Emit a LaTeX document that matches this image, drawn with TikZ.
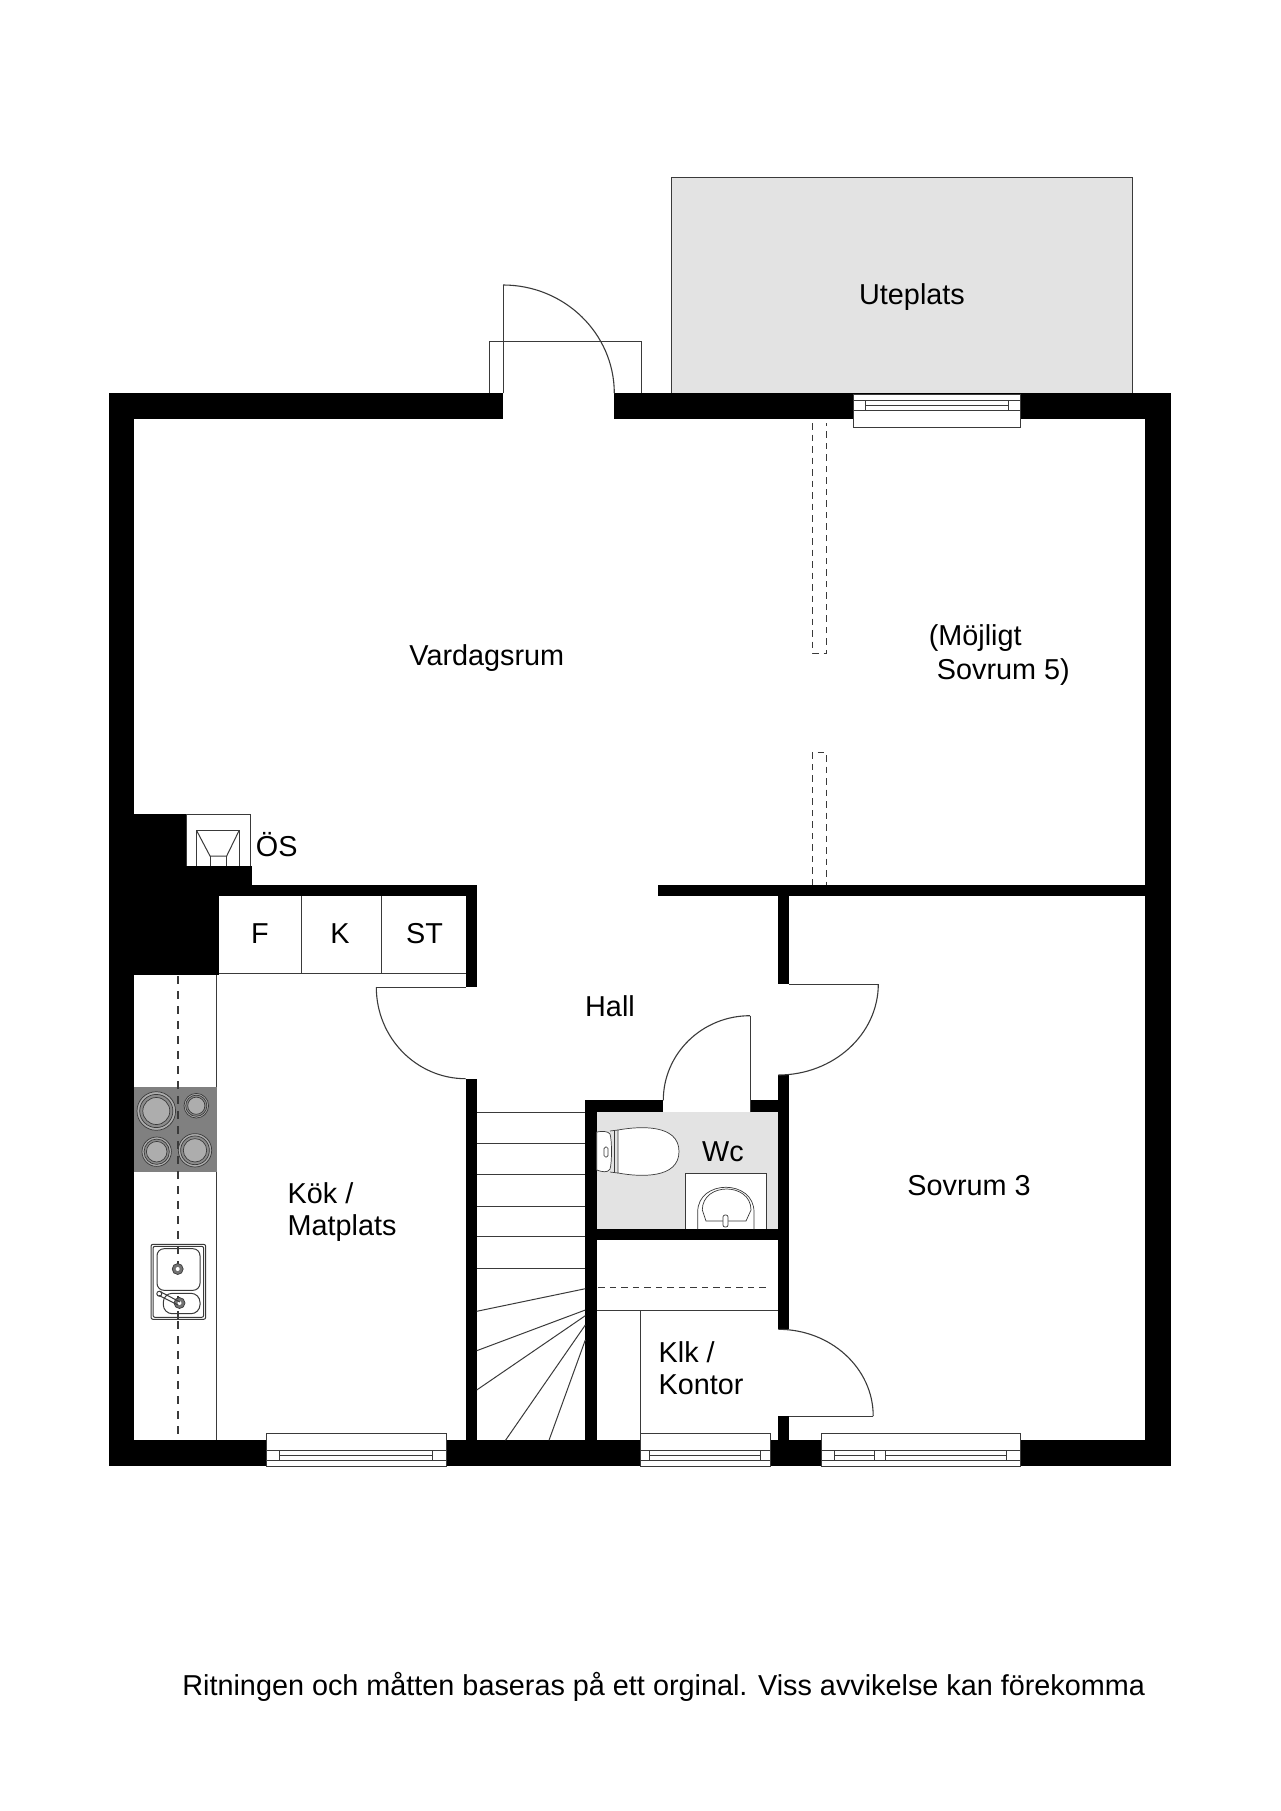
\documentclass[tikz,border=0pt]{standalone}
\usepackage{fontspec}
\setmainfont{Liberation Sans}
\definecolor{linea}{HTML}{3A3A3A}
\definecolor{grigio}{HTML}{E3E3E3}
\tikzset{
    muro/.style = {fill=black},
    sottile/.style = {draw=linea, line width=1pt},
    tratteggio/.style = {draw=linea, line width=1.3pt, dash pattern=on 8pt off 7pt},
    tratteggino/.style = {draw=linea, line width=1pt, dash pattern=on 6.5pt off 5pt},
    etichetta/.style = {font=\fontsize{28.8pt}{30pt}\selectfont, inner sep=0pt},
    piastra/.style = {draw=linea, line width=0.7pt, fill=#1}
}
\newcommand{\porta}[4]{
\draw[sottile, line width=1.1pt] (#3,#2) .. controls (#3,{#2+0.5523*(#4-#2)}) and ({#1+0.5523*(#3-#1)},#4) .. (#1,#4);
}
\newcommand{\finestra}[4]{
\fill[white] (#1,1433.3) rectangle (#2,1466);
\draw[sottile] (#1,1433.3) rectangle (#2,1466);
\draw[sottile] (#1,1450.3) -- (#2,1450.3);
\draw[sottile] (#3,1455.3) -- (#4,1455.3);
\draw[sottile] (#1,1460) -- (#2,1460);
\draw[sottile] (#3,1450.3) -- (#3,1460);
\draw[sottile] (#4,1450.3) -- (#4,1460);
}
\newcommand{\fornello}[3]{
\draw[piastra={black!32}] (#1,#2) circle (#3);
\draw[piastra={black!45}] (#1,#2) circle (#3*0.86);
\draw[piastra={black!32}] (#1,#2) circle (#3*0.70);
}
\begin{document}
\begin{tikzpicture}[x=1pt, y=-1pt]
    \useasboundingbox (0,0) rectangle (1280,1811);
    % Uteplats
    \draw[sottile, fill=grigio] (671.9,178) rectangle (1132.5,393.3);
    % Wc
    \fill[grigio] (596.7,1112.3) rectangle (778.3,1229.3);
    % Muri esterni
    \fill[muro] (108.7,393.3) rectangle (134.3,1466.3);
    \fill[muro] (108.7,393.3) rectangle (503,419.3);
    \fill[muro] (614.3,393.3) rectangle (1171.2,419.3);
    \fill[muro] (1145.2,393.3) rectangle (1171.2,1466.3);
    \fill[muro] (108.7,1440.3) rectangle (1171.2,1466.3);
    % Camino
    \fill[muro] (134.3,813.7) rectangle (186,885);
    \fill[muro] (134.3,865.7) rectangle (251.7,885);
    \fill[muro] (134.3,885) rectangle (218.7,974.7);
    % Muri interni
    \fill[muro] (218,885) rectangle (476.7,896.3);
    \fill[muro] (465.7,885) rectangle (476.7,987);
    \fill[muro] (465.7,1078.7) rectangle (476.7,1440.3);
    \fill[muro] (658.3,885) rectangle (1145.2,896);
    \fill[muro] (778.3,885) rectangle (789.3,984);
    \fill[muro] (778.3,1075) rectangle (789.3,1329.3);
    \fill[muro] (778.3,1416) rectangle (789.3,1440.3);
    \fill[muro] (585.3,1100.3) rectangle (596.7,1440.3);
    \fill[muro] (585.3,1100.3) rectangle (663.3,1112.3);
    \fill[muro] (750,1100.3) rectangle (789.3,1112.3);
    \fill[muro] (585.3,1229.3) rectangle (789.3,1240.3);
    % Finestre
    \finestra{266.3}{446.7}{279.7}{432.7}
    \finestra{640.3}{770.8}{649.8}{760.5}
    \finestra{821.4}{1020.3}{834}{1006.9}
    \fill[white] (874.8,1450.3) rectangle (885,1460);
    \draw[sottile] (874.8,1450.3) rectangle (885,1460);
    \fill[white] (853.6,394.3) rectangle (1020.6,427);
    \draw[sottile] (853.6,394.3) rectangle (1020.6,427);
    \draw[sottile] (853.6,400.7) -- (1020.6,400.7);
    \draw[sottile] (865.9,405) -- (1008.4,405);
    \draw[sottile] (853.6,410.3) -- (1020.6,410.3);
    \draw[sottile] (865.9,400.7) -- (865.9,410.3);
    \draw[sottile] (1008.4,400.7) -- (1008.4,410.3);
    % Porte
    \draw[sottile] (489.7,393.3) -- (489.7,341) -- (641.7,341) -- (641.7,393.3);
    \draw[sottile] (503,393.3) -- (503,285);
    \porta{503}{393.3}{614.3}{285}
    \draw[sottile] (465.7,987) -- (376.3,987);
    \porta{465.7}{987}{376.3}{1078.7}
    \draw[sottile] (789.3,984) -- (878.3,984);
    \porta{778.3}{984}{878.3}{1075}
    \draw[sottile] (750,1112.3) -- (750,1015.7);
    \porta{750}{1100.3}{663.3}{1015.7}
    \draw[sottile] (789.3,1416) -- (873.2,1416);
    \porta{778.3}{1416}{873.2}{1329.3}
    % Obs
    \draw[sottile] (186,865.7) -- (186,814.7) -- (250.7,814.7) -- (250.7,865.7);
    \draw[sottile] (196.7,865.7) -- (196.7,830.7) -- (239,830.7) -- (239,865.7);
    \draw[sottile] (196.7,830.7) -- (210,856) -- (226.7,856) -- (239,830.7);
    \draw[sottile] (210,865.7) -- (210,856);
    \draw[sottile] (226.7,865.7) -- (226.7,856);
    % Armadi
    \draw[sottile] (218.7,973) -- (465.7,973);
    \draw[sottile] (301.3,896.3) -- (301.3,973);
    \draw[sottile] (381.7,896.3) -- (381.7,973);
    % Scala
    \foreach \yy in {1112.3,1143.3,1174.3,1206,1236.7,1268}
        \draw[sottile] (476.7,\yy) -- (585.3,\yy);
    \draw[sottile] (476.7,1311.3) -- (585.3,1288.7);
    \draw[sottile] (476.7,1350.7) -- (585.3,1310);
    \draw[sottile] (476.7,1390) -- (585.3,1315.7);
    \draw[sottile] (505.5,1440.3) -- (585.3,1325);
    \draw[sottile] (549,1440.3) -- (585.3,1340);
    % Cucina
    \draw[sottile] (216.7,974.7) -- (216.7,1440.3);
    \fill[black!50] (134.3,1087.3) rectangle (216.7,1172);
    \draw[tratteggio] (178,976) -- (178,1440.3);
    \fornello{156.3}{1111}{19.3}
    \fornello{196.3}{1105.7}{12.3}
    \fornello{156.7}{1151.7}{14.7}
    \fornello{195}{1150.3}{16.7}
    % Lavello
    \draw[sottile, fill=white, rounded corners=2pt] (151,1244.3) rectangle (205.7,1319.3);
    \draw[sottile, rounded corners=2pt] (153,1246.3) rectangle (203.7,1317.3);
    \draw[sottile, rounded corners=7pt] (157,1248.7) rectangle (200,1290.3);
    \draw[sottile, rounded corners=9pt] (163.3,1293.3) rectangle (200,1313.7);
    \draw[tratteggio] (178,1246) -- (178,1272);
    \draw[tratteggio] (178,1296) -- (178,1319.3);
    \draw[piastra={black!55}] (177.7,1269) circle (5.5);
    \fill[white] (177.7,1269) circle (2);
    \draw[piastra={black!55}] (179.5,1303) circle (5.5);
    \fill[white] (179.5,1303) circle (2);
    \draw[sottile, fill=white] (159.3,1293.7) circle (2.5);
    \draw[sottile] (160,1291.5) -- (180,1302);
    \draw[sottile] (159,1295.5) -- (178,1305);
    % Gabinetto
    \draw[sottile, line width=0.7pt, fill=white] (596.7,1132) .. controls (602,1131) and (608,1131) .. (610,1134) .. controls (612,1140) and (612,1163) .. (610,1169) .. controls (608,1173) and (602,1172) .. (596.7,1170) -- cycle;
    \draw[sottile, line width=0.7pt, fill=white] (618,1130) .. controls (640,1126) and (679,1124) .. (679,1151.5) .. controls (679,1179) and (640,1177) .. (618,1173) -- cycle;
    \draw[sottile, line width=0.7pt] (610,1131) -- (618,1130);
    \draw[sottile, line width=0.7pt] (610,1172) -- (618,1173);
    \draw[sottile, line width=0.7pt] (614,1130) -- (614,1173);
    \draw[sottile, line width=0.7pt, rounded corners=1.5pt] (604,1147) rectangle (608,1157);
    % Lavabo
    \draw[sottile, fill=white] (685,1229.3) -- (685,1173.3) -- (766.7,1173.3) -- (766.7,1229.3);
    \draw[sottile, line width=0.7pt] (697.7,1229.3) -- (697.7,1212) .. controls (697.7,1179) and (754,1179) .. (754,1212) -- (754,1229.3);
    \draw[sottile, line width=0.7pt] (702.3,1210) .. controls (702.3,1182) and (751,1182) .. (751,1210) -- (746,1221) -- (706,1221) -- cycle;
    \draw[sottile, line width=0.7pt, fill=white, rounded corners=2pt] (723,1215) rectangle (728,1227);
    % Klk
    \draw[tratteggino] (598.4,1287.7) -- (769,1287.7);
    \draw[sottile] (596.7,1310.3) -- (778.3,1310.3);
    \draw[sottile] (640.3,1310.3) -- (640.3,1440.3);
    % Trave
    \draw[tratteggino] (812,423) -- (812,653) -- (826.7,653) -- (826.7,423);
    \draw[tratteggino] (812,885) -- (812,752.6) -- (826.7,752.6) -- (826.7,885);
    % Testi
    \node[etichetta] (uteplats) at (912,297.3) {Uteplats};
    \node[etichetta] (vardagsrum) at (486.8,658) {Vardagsrum};
    \node[etichetta, anchor=west] (mojligt) at (928.6,638) {(Möjligt};
    \node[etichetta, anchor=west] (sovrumfem) at (936.7,672.5) {Sovrum 5)};
    \node[etichetta, anchor=west] (os) at (255.7,845) {ÖS};
    \node[etichetta] (f) at (260,934) {F};
    \node[etichetta] (k) at (340,934) {K};
    \node[etichetta] (st) at (424.5,934) {ST};
    \node[etichetta] (hall) at (610,1006.5) {Hall};
    \node[etichetta] (wc) at (723,1152) {Wc};
    \node[etichetta, anchor=west] (kok) at (287.5,1193) {Kök /};
    \node[etichetta, anchor=west] (matplats) at (287.5,1228) {Matplats};
    \node[etichetta] (sovrumtre) at (969,1186) {Sovrum 3};
    \node[etichetta, anchor=west] (klk) at (658.5,1352) {Klk /};
    \node[etichetta, anchor=west] (kontor) at (658.5,1385) {Kontor};
    \node[etichetta] (nota) at (663.7,1687) {Ritningen och måtten baseras på ett orginal. Viss avvikelse kan förekomma};
\end{tikzpicture}
\end{document}
